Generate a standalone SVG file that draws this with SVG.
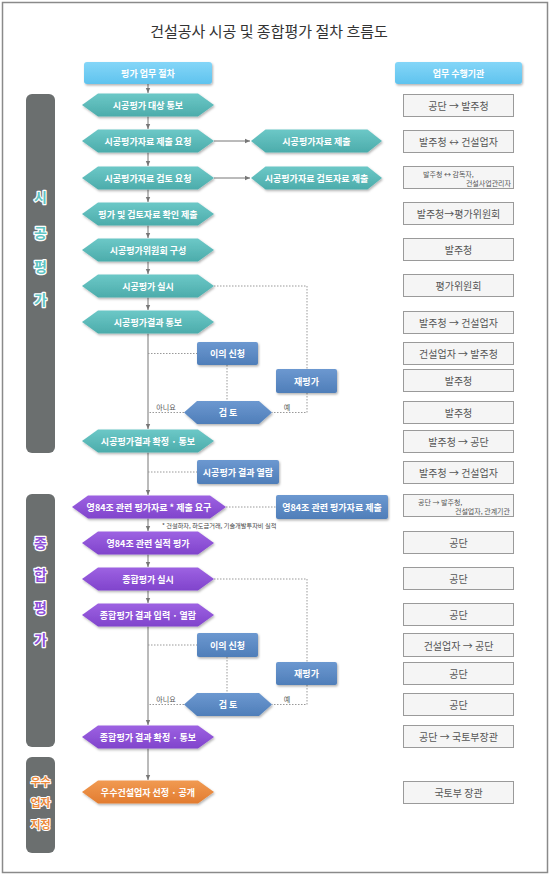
<svg xmlns="http://www.w3.org/2000/svg" xmlns:xlink="http://www.w3.org/1999/xlink" width="550" height="876" viewBox="0 0 550 876">
<style>
text{font-family:'Noto Sans CJK KR','Noto Sans',sans-serif;dominant-baseline:central;text-anchor:middle}
.w{fill:#fff;font-weight:bold;font-size:9px}
.teal{fill:url(#gTeal);filter:url(#sh)}
.purp{fill:url(#gPurp);filter:url(#sh)}
.orng{fill:url(#gOrng);filter:url(#sh)}
.blue{fill:url(#gBlue);filter:url(#sh)}
.hdr{fill:url(#gHdr);filter:url(#sh)}
.bar{fill:#6b6f6f}
.rb{fill:#f5f5f5;stroke:#9a9a9a;stroke-width:1}
.rt{fill:#555;font-size:10px}
.rs{fill:#555;font-size:7px}
.ln{stroke:#777;stroke-width:1;fill:none}
.dt{stroke:#999;stroke-width:1;fill:none;stroke-dasharray:1.5 1.5}
.lbl{fill:#555;font-size:7px}
.bt{font-weight:bold;font-size:14px;stroke:#fff;stroke-width:2.5;paint-order:stroke;stroke-linejoin:round}
.bo{font-weight:bold;font-size:11px;stroke:#fff;stroke-width:2;paint-order:stroke;stroke-linejoin:round;fill:#ec8a3c}
</style>
<defs>
<linearGradient id="gTeal" x1="0" y1="0" x2="0" y2="1"><stop offset="0" stop-color="#6cc8c7"/><stop offset="1" stop-color="#4cacab"/></linearGradient>
<linearGradient id="gPurp" x1="0" y1="0" x2="0" y2="1"><stop offset="0" stop-color="#9d62e2"/><stop offset="1" stop-color="#8044cc"/></linearGradient>
<linearGradient id="gOrng" x1="0" y1="0" x2="0" y2="1"><stop offset="0" stop-color="#f19a52"/><stop offset="1" stop-color="#e27c30"/></linearGradient>
<linearGradient id="gBlue" x1="0" y1="0" x2="0" y2="1"><stop offset="0" stop-color="#6c98d0"/><stop offset="1" stop-color="#4f7eb9"/></linearGradient>
<linearGradient id="gHdr" x1="0" y1="0" x2="0" y2="1"><stop offset="0" stop-color="#84d6f8"/><stop offset="1" stop-color="#5fc3ee"/></linearGradient>
<filter id="sh" x="-10%" y="-20%" width="125%" height="160%"><feDropShadow dx="1" dy="1.5" stdDeviation="1" flood-color="#000" flood-opacity="0.3"/></filter>
<marker id="ar" markerWidth="6" markerHeight="6" refX="5" refY="3" orient="auto" markerUnits="userSpaceOnUse"><path d="M0,0.8 L5,3 L0,5.2 Z" fill="#777"/></marker>
<polygon id="hm" points="-66,0 -50,-11.5 50,-11.5 66,0 50,11.5 -50,11.5"/>
<polygon id="hw" points="-77,0 -61,-11.5 61,-11.5 77,0 61,11.5 -61,11.5"/>
<polygon id="hr" points="-65.5,0 -51,-11.5 51,-11.5 65.5,0 51,11.5 -51,11.5"/>
<polygon id="hk" points="-44,0 -31,-11.5 31,-11.5 44,0 31,11.5 -31,11.5"/>
</defs>
<rect x="0" y="0" width="550" height="876" fill="#fff"/>
<rect x="2.5" y="2.5" width="545" height="870" fill="none" stroke="#8a8a8a" stroke-width="1.5"/>
<text x="269" y="30" style="font-size:15px;fill:#333">건설공사 시공 및 종합평가 절차 흐름도</text>

<g id="connectors">
<line class="ln" x1="148" y1="84" x2="148" y2="93" marker-end="url(#ar)"/>
<line class="ln" x1="148" y1="116.5" x2="148" y2="129" marker-end="url(#ar)"/>
<line class="ln" x1="148" y1="152.5" x2="148" y2="166" marker-end="url(#ar)"/>
<line class="ln" x1="148" y1="189.5" x2="148" y2="202" marker-end="url(#ar)"/>
<line class="ln" x1="148" y1="225.5" x2="148" y2="238" marker-end="url(#ar)"/>
<line class="ln" x1="148" y1="261.5" x2="148" y2="274" marker-end="url(#ar)"/>
<line class="ln" x1="148" y1="297.5" x2="148" y2="310" marker-end="url(#ar)"/>
<line class="ln" x1="148" y1="333.5" x2="148" y2="429" marker-end="url(#ar)"/>
<line class="ln" x1="148" y1="452.5" x2="148" y2="495" marker-end="url(#ar)"/>
<line class="ln" x1="148" y1="518.5" x2="148" y2="531" marker-end="url(#ar)"/>
<line class="ln" x1="148" y1="554.5" x2="148" y2="567" marker-end="url(#ar)"/>
<line class="ln" x1="148" y1="590.5" x2="148" y2="603" marker-end="url(#ar)"/>
<line class="ln" x1="148" y1="626.5" x2="148" y2="725" marker-end="url(#ar)"/>
<line class="ln" x1="148" y1="748.5" x2="148" y2="780" marker-end="url(#ar)"/>
<line class="ln" x1="214" y1="141" x2="250" y2="141" marker-end="url(#ar)"/>
<line class="ln" x1="214" y1="178" x2="250" y2="178" marker-end="url(#ar)"/>
<polyline class="dt" points="214,286 307,286 307,369"/>
<polyline class="dt" points="307,393 307,412.5 272,412.5"/>
<line class="dt" x1="148" y1="353.5" x2="197" y2="353.5"/>
<line class="dt" x1="227" y1="365" x2="227" y2="401"/>
<line class="dt" x1="184" y1="412.5" x2="148" y2="412.5"/>
<line class="dt" x1="148" y1="472" x2="197" y2="472"/>
<line class="dt" x1="226" y1="507" x2="276" y2="507"/>
<polyline class="dt" points="214,579 307,579 307,662"/>
<polyline class="dt" points="307,685 307,704.5 272,704.5"/>
<line class="dt" x1="148" y1="645" x2="197" y2="645"/>
<line class="dt" x1="227" y1="657" x2="227" y2="693"/>
<line class="dt" x1="184" y1="704.5" x2="148" y2="704.5"/>
<text class="lbl" x="166" y="407">아니요</text>
<text class="lbl" x="287" y="407">예</text>
<text class="lbl" x="166" y="699">아니요</text>
<text class="lbl" x="287" y="699">예</text>
<text x="162" y="525" style="font-size:6.2px;fill:#444;text-anchor:start">* 건설하자, 하도급거래, 기술개발투자비 실적</text>
</g>

<g id="hdr-left"><rect class="hdr" x="84" y="62" width="128" height="22" rx="3"/><text class="w" x="148" y="73">평가 업무 절차</text></g>
<g id="hdr-right"><rect class="hdr" x="395" y="62" width="127" height="22" rx="3"/><text class="w" x="458.5" y="73">업무 수행기관</text></g>

<g id="bar1"><rect class="bar" x="26" y="94" width="29" height="359" rx="6"/>
<text class="bt" x="40.5" y="196" style="fill:#5fc4c3">시</text>
<text class="bt" x="40.5" y="232" style="fill:#5fc4c3">공</text>
<text class="bt" x="40.5" y="266" style="fill:#5fc4c3">평</text>
<text class="bt" x="40.5" y="299" style="fill:#5fc4c3">가</text></g>
<g id="bar2"><rect class="bar" x="26" y="494" width="29" height="253" rx="6"/>
<text class="bt" x="40.5" y="542" style="fill:#8e4fd8">종</text>
<text class="bt" x="40.5" y="574" style="fill:#8e4fd8">합</text>
<text class="bt" x="40.5" y="607" style="fill:#8e4fd8">평</text>
<text class="bt" x="40.5" y="639" style="fill:#8e4fd8">가</text></g>
<g id="bar3"><rect class="bar" x="26" y="757" width="29" height="96" rx="6"/>
<text class="bo" x="40.5" y="781">우수</text>
<text class="bo" x="40.5" y="802">업자</text>
<text class="bo" x="40.5" y="824">지정</text></g>

<g id="n1"><use href="#hm" x="148" y="105" class="teal"/><text class="w" x="148" y="105">시공평가 대상 통보</text></g>
<g id="n2"><use href="#hm" x="148" y="141" class="teal"/><text class="w" x="148" y="141">시공평가자료 제출 요청</text></g>
<g id="n3"><use href="#hm" x="148" y="178" class="teal"/><text class="w" x="148" y="178">시공평가자료 검토 요청</text></g>
<g id="n4"><use href="#hm" x="148" y="214" class="teal"/><text class="w" x="148" y="214">평가 및 검토자료 확인 제출</text></g>
<g id="n5"><use href="#hm" x="148" y="250" class="teal"/><text class="w" x="148" y="250">시공평가위원회 구성</text></g>
<g id="n6"><use href="#hm" x="148" y="286" class="teal"/><text class="w" x="148" y="286">시공평가 실시</text></g>
<g id="n7"><use href="#hm" x="148" y="322" class="teal"/><text class="w" x="148" y="322">시공평가결과 통보</text></g>
<g id="n8"><use href="#hm" x="148" y="441" class="teal"/><text class="w" x="148" y="441">시공평가결과 확정 · 통보</text></g>
<g id="s1"><use href="#hr" x="316.5" y="141" class="teal"/><text class="w" x="316.5" y="141">시공평가자료 제출</text></g>
<g id="s2"><use href="#hr" x="316.5" y="178" class="teal"/><text class="w" x="316.5" y="178">시공평가자료 검토자료 제출</text></g>
<g id="b1"><rect class="blue" x="197" y="342" width="61" height="23" rx="2"/><text class="w" x="227.5" y="353.5">이의 신청</text></g>
<g id="b2"><rect class="blue" x="276" y="369" width="61" height="24" rx="2"/><text class="w" x="306.5" y="381">재평가</text></g>
<g id="b3"><use href="#hk" x="228" y="412.5" class="blue"/><text class="w" x="228" y="412.5">검 토</text></g>
<g id="b4"><rect class="blue" x="197" y="460" width="82" height="24" rx="2"/><text class="w" x="238" y="472">시공평가 결과 열람</text></g>

<g id="p1"><use href="#hw" x="149" y="507" class="purp"/><text class="w" x="149" y="507">영84조 관련 평가자료 * 제출 요구</text></g>
<g id="b5"><rect class="blue" x="276" y="495" width="112" height="24" rx="2"/><text class="w" x="332" y="507">영84조 관련 평가자료 제출</text></g>
<g id="p2"><use href="#hm" x="148" y="543" class="purp"/><text class="w" x="148" y="543">영84조 관련 실적 평가</text></g>
<g id="p3"><use href="#hm" x="148" y="579" class="purp"/><text class="w" x="148" y="579">종합평가 실시</text></g>
<g id="p4"><use href="#hm" x="148" y="615" class="purp"/><text class="w" x="148" y="615">종합평가 결과 입력 · 열람</text></g>
<g id="b6"><rect class="blue" x="197" y="633" width="61" height="24" rx="2"/><text class="w" x="227.5" y="645">이의 신청</text></g>
<g id="b7"><rect class="blue" x="276" y="662" width="61" height="23" rx="2"/><text class="w" x="306.5" y="673.5">재평가</text></g>
<g id="b8"><use href="#hk" x="228" y="704.5" class="blue"/><text class="w" x="228" y="704.5">검 토</text></g>
<g id="p5"><use href="#hm" x="148" y="737" class="purp"/><text class="w" x="148" y="737">종합평가 결과 확정 · 통보</text></g>
<g id="o1"><use href="#hm" x="148" y="792" class="orng"/><text class="w" x="148" y="792">우수건설업자 선정 · 공개</text></g>

<g id="r1"><rect class="rb" x="403.5" y="94.5" width="110" height="22"/><text class="rt" x="458.5" y="105.5">공단 → 발주청</text></g>
<g id="r2"><rect class="rb" x="403.5" y="130.5" width="110" height="22"/><text class="rt" x="458.5" y="141.5">발주청 ↔ 건설업자</text></g>
<g id="r3"><rect class="rb" x="403.5" y="166.5" width="110" height="22"/><text class="rs" x="423" y="173.5" style="text-anchor:start">발주청 ↔ 감독자,</text><text class="rs" x="511" y="182.5" style="text-anchor:end">건설사업관리자</text></g>
<g id="r4"><rect class="rb" x="403.5" y="202.5" width="110" height="22"/><text class="rt" x="458.5" y="213.5">발주청→평가위원회</text></g>
<g id="r5"><rect class="rb" x="403.5" y="238.5" width="110" height="22"/><text class="rt" x="458.5" y="249.5">발주청</text></g>
<g id="r6"><rect class="rb" x="403.5" y="274.5" width="110" height="22"/><text class="rt" x="458.5" y="285.5">평가위원회</text></g>
<g id="r7"><rect class="rb" x="403.5" y="311.5" width="110" height="22"/><text class="rt" x="458.5" y="322.5">발주청 → 건설업자</text></g>
<g id="r8"><rect class="rb" x="403.5" y="342.5" width="110" height="22"/><text class="rt" x="458.5" y="353.5">건설업자 → 발주청</text></g>
<g id="r9"><rect class="rb" x="403.5" y="369.5" width="110" height="22"/><text class="rt" x="458.5" y="380.5">발주청</text></g>
<g id="r10"><rect class="rb" x="403.5" y="401.5" width="110" height="22"/><text class="rt" x="458.5" y="412.5">발주청</text></g>
<g id="r11"><rect class="rb" x="403.5" y="430.5" width="110" height="22"/><text class="rt" x="458.5" y="441.5">발주청 → 공단</text></g>
<g id="r12"><rect class="rb" x="403.5" y="461.5" width="110" height="22"/><text class="rt" x="458.5" y="472.5">발주청 → 건설업자</text></g>
<g id="r13"><rect class="rb" x="403.5" y="494.5" width="110" height="22"/><text class="rs" x="418" y="501.5" style="text-anchor:start">공단 → 발주청,</text><text class="rs" x="510" y="511" style="text-anchor:end">건설업자, 관계기관</text></g>
<g id="r14"><rect class="rb" x="403.5" y="531.5" width="110" height="22"/><text class="rt" x="458.5" y="542.5">공단</text></g>
<g id="r15"><rect class="rb" x="403.5" y="567.5" width="110" height="22"/><text class="rt" x="458.5" y="578.5">공단</text></g>
<g id="r16"><rect class="rb" x="403.5" y="603.5" width="110" height="22"/><text class="rt" x="458.5" y="614.5">공단</text></g>
<g id="r17"><rect class="rb" x="403.5" y="633.5" width="110" height="23"/><text class="rt" x="458.5" y="645">건설업자 → 공단</text></g>
<g id="r18"><rect class="rb" x="403.5" y="662.5" width="110" height="22"/><text class="rt" x="458.5" y="673.5">공단</text></g>
<g id="r19"><rect class="rb" x="403.5" y="693.5" width="110" height="22"/><text class="rt" x="458.5" y="704.5">공단</text></g>
<g id="r20"><rect class="rb" x="403.5" y="725.5" width="110" height="22"/><text class="rt" x="458.5" y="736.5">공단 → 국토부장관</text></g>
<g id="r21"><rect class="rb" x="403.5" y="781.5" width="110" height="22"/><text class="rt" x="458.5" y="792.5">국토부 장관</text></g>
</svg>
